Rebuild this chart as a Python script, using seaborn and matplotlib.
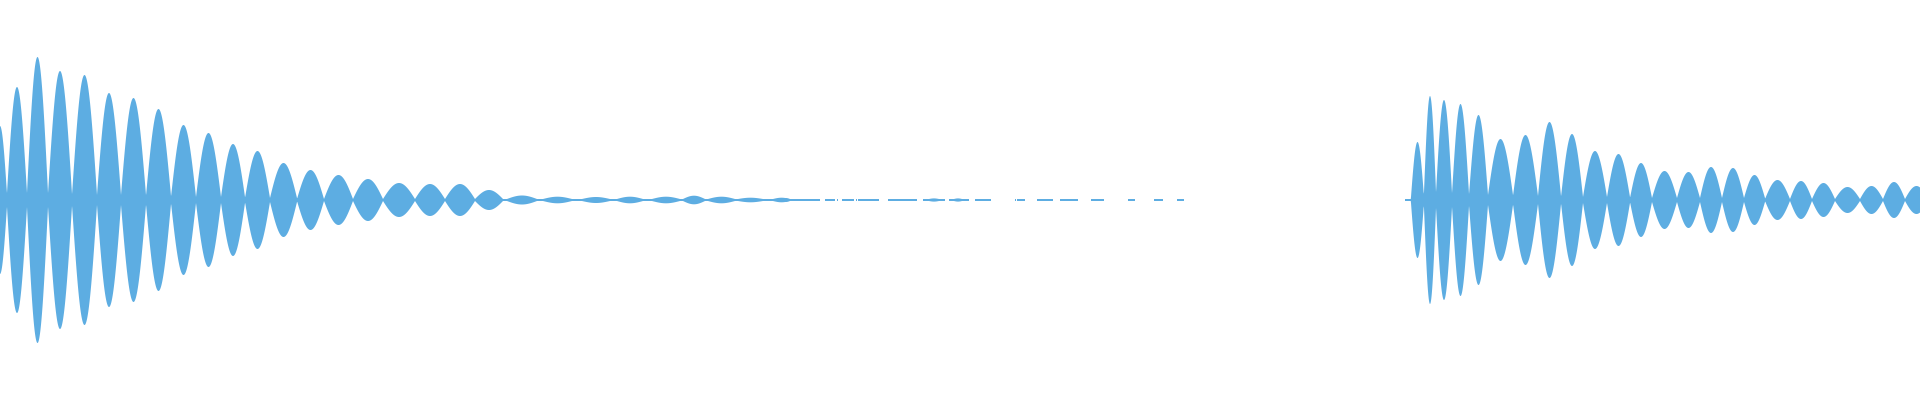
import numpy as np
import pandas as pd
import matplotlib
matplotlib.use("Agg")
import matplotlib.pyplot as plt
import seaborn as sns

WAVE_COLOR = "#5DADE2"

# first burst: beat nodes (time, px), lobe peak amplitude and the level left at each node
burst1_nodes = [-7, 7, 27, 48, 72, 97, 121, 146, 171, 196, 221, 245, 270, 297,
                324, 353, 383, 415, 445, 475, 503]
burst1_peaks = [74, 113, 143, 129, 125, 107, 102, 91, 75, 67, 56, 49, 37, 30,
                25, 21, 17, 16, 16, 10]
burst1_floor = [6, 7, 7, 6, 5, 5, 5, 4, 3, 3, 3, 2, 2, 1, 1, 1, 1, 1, 1, 1]

# small ripples in the tail of the first burst
ripple_start = [507, 543, 582, 617, 652, 683, 708, 738, 773, 782, 929, 954]
ripple_end = [537, 572, 610, 643, 680, 705, 735, 763, 790, 790, 939, 962]
ripple_peaks = [4.5, 3.3, 3.0, 3.3, 3.3, 4.3, 3.3, 2.3, 2.3, 2.0, 1.6, 1.6]

# near-silent hiss, broken into short pieces
hiss_start = [503, 825, 837, 842, 856, 858, 888, 923, 949, 975, 1015, 1017,
              1037, 1060, 1091, 1128, 1154, 1177, 1405]
hiss_end = [820, 835, 838, 854, 857, 879, 917, 945, 969, 991, 1016, 1025,
            1053, 1078, 1104, 1135, 1163, 1184, 1411]
hiss_level = 1.0

# second burst
burst2_nodes = [1411, 1424, 1436, 1452, 1469, 1488, 1513, 1538, 1561, 1583,
                1607, 1630, 1652, 1677, 1700, 1722, 1744, 1765, 1790, 1812,
                1835, 1860, 1883, 1905, 1928]
burst2_peaks = [58, 104, 100, 96, 85, 61, 65, 78, 66, 49, 46, 37, 29, 28, 33,
                32, 25, 20, 19, 17, 13, 14, 18, 14]
burst2_floor = [3, 8, 7, 6, 5, 5, 4, 4, 3, 3, 3, 2, 2, 2, 2, 2, 2, 1, 1, 1,
                1, 1, 1, 1]


def add_lobes(x, env, starts, ends, peaks, floors):
    for a, b, p, f in zip(starts, ends, peaks, floors):
        m = (x >= a) & (x <= b)
        t = (x[m] - a) / (b - a)
        env[m] = np.maximum(env[m], f + (p - f) * np.sin(np.pi * t))
    return env


def build_envelope():
    x = np.arange(0, 1920.25, 0.25)
    env = np.zeros_like(x)
    env = add_lobes(x, env, burst1_nodes[:-1], burst1_nodes[1:], burst1_peaks, burst1_floor)
    env = add_lobes(x, env, ripple_start, ripple_end, ripple_peaks, [hiss_level] * len(ripple_peaks))
    env = add_lobes(x, env, burst2_nodes[:-1], burst2_nodes[1:], burst2_peaks, burst2_floor)
    for a, b in zip(hiss_start, hiss_end):
        m = (x >= a) & (x <= b)
        env[m] = np.maximum(env[m], hiss_level)
    return pd.DataFrame({"t": x, "env": env})


def main():
    sns.set_theme(style="white")
    wave = build_envelope()

    fig = plt.figure(figsize=(19.2, 4), dpi=100)
    ax = fig.add_axes([0, 0, 1, 1])
    ax.fill_between(wave["t"], -wave["env"], wave["env"], where=wave["env"] > 0,
                    color=WAVE_COLOR, linewidth=0)
    ax.set_xlim(0, 1920)
    ax.set_ylim(-200, 200)
    ax.axis("off")
    sns.despine(ax=ax, left=True, bottom=True)

    fig.savefig("out.png", dpi=100, facecolor="white")
    plt.close(fig)


if __name__ == "__main__":
    main()
